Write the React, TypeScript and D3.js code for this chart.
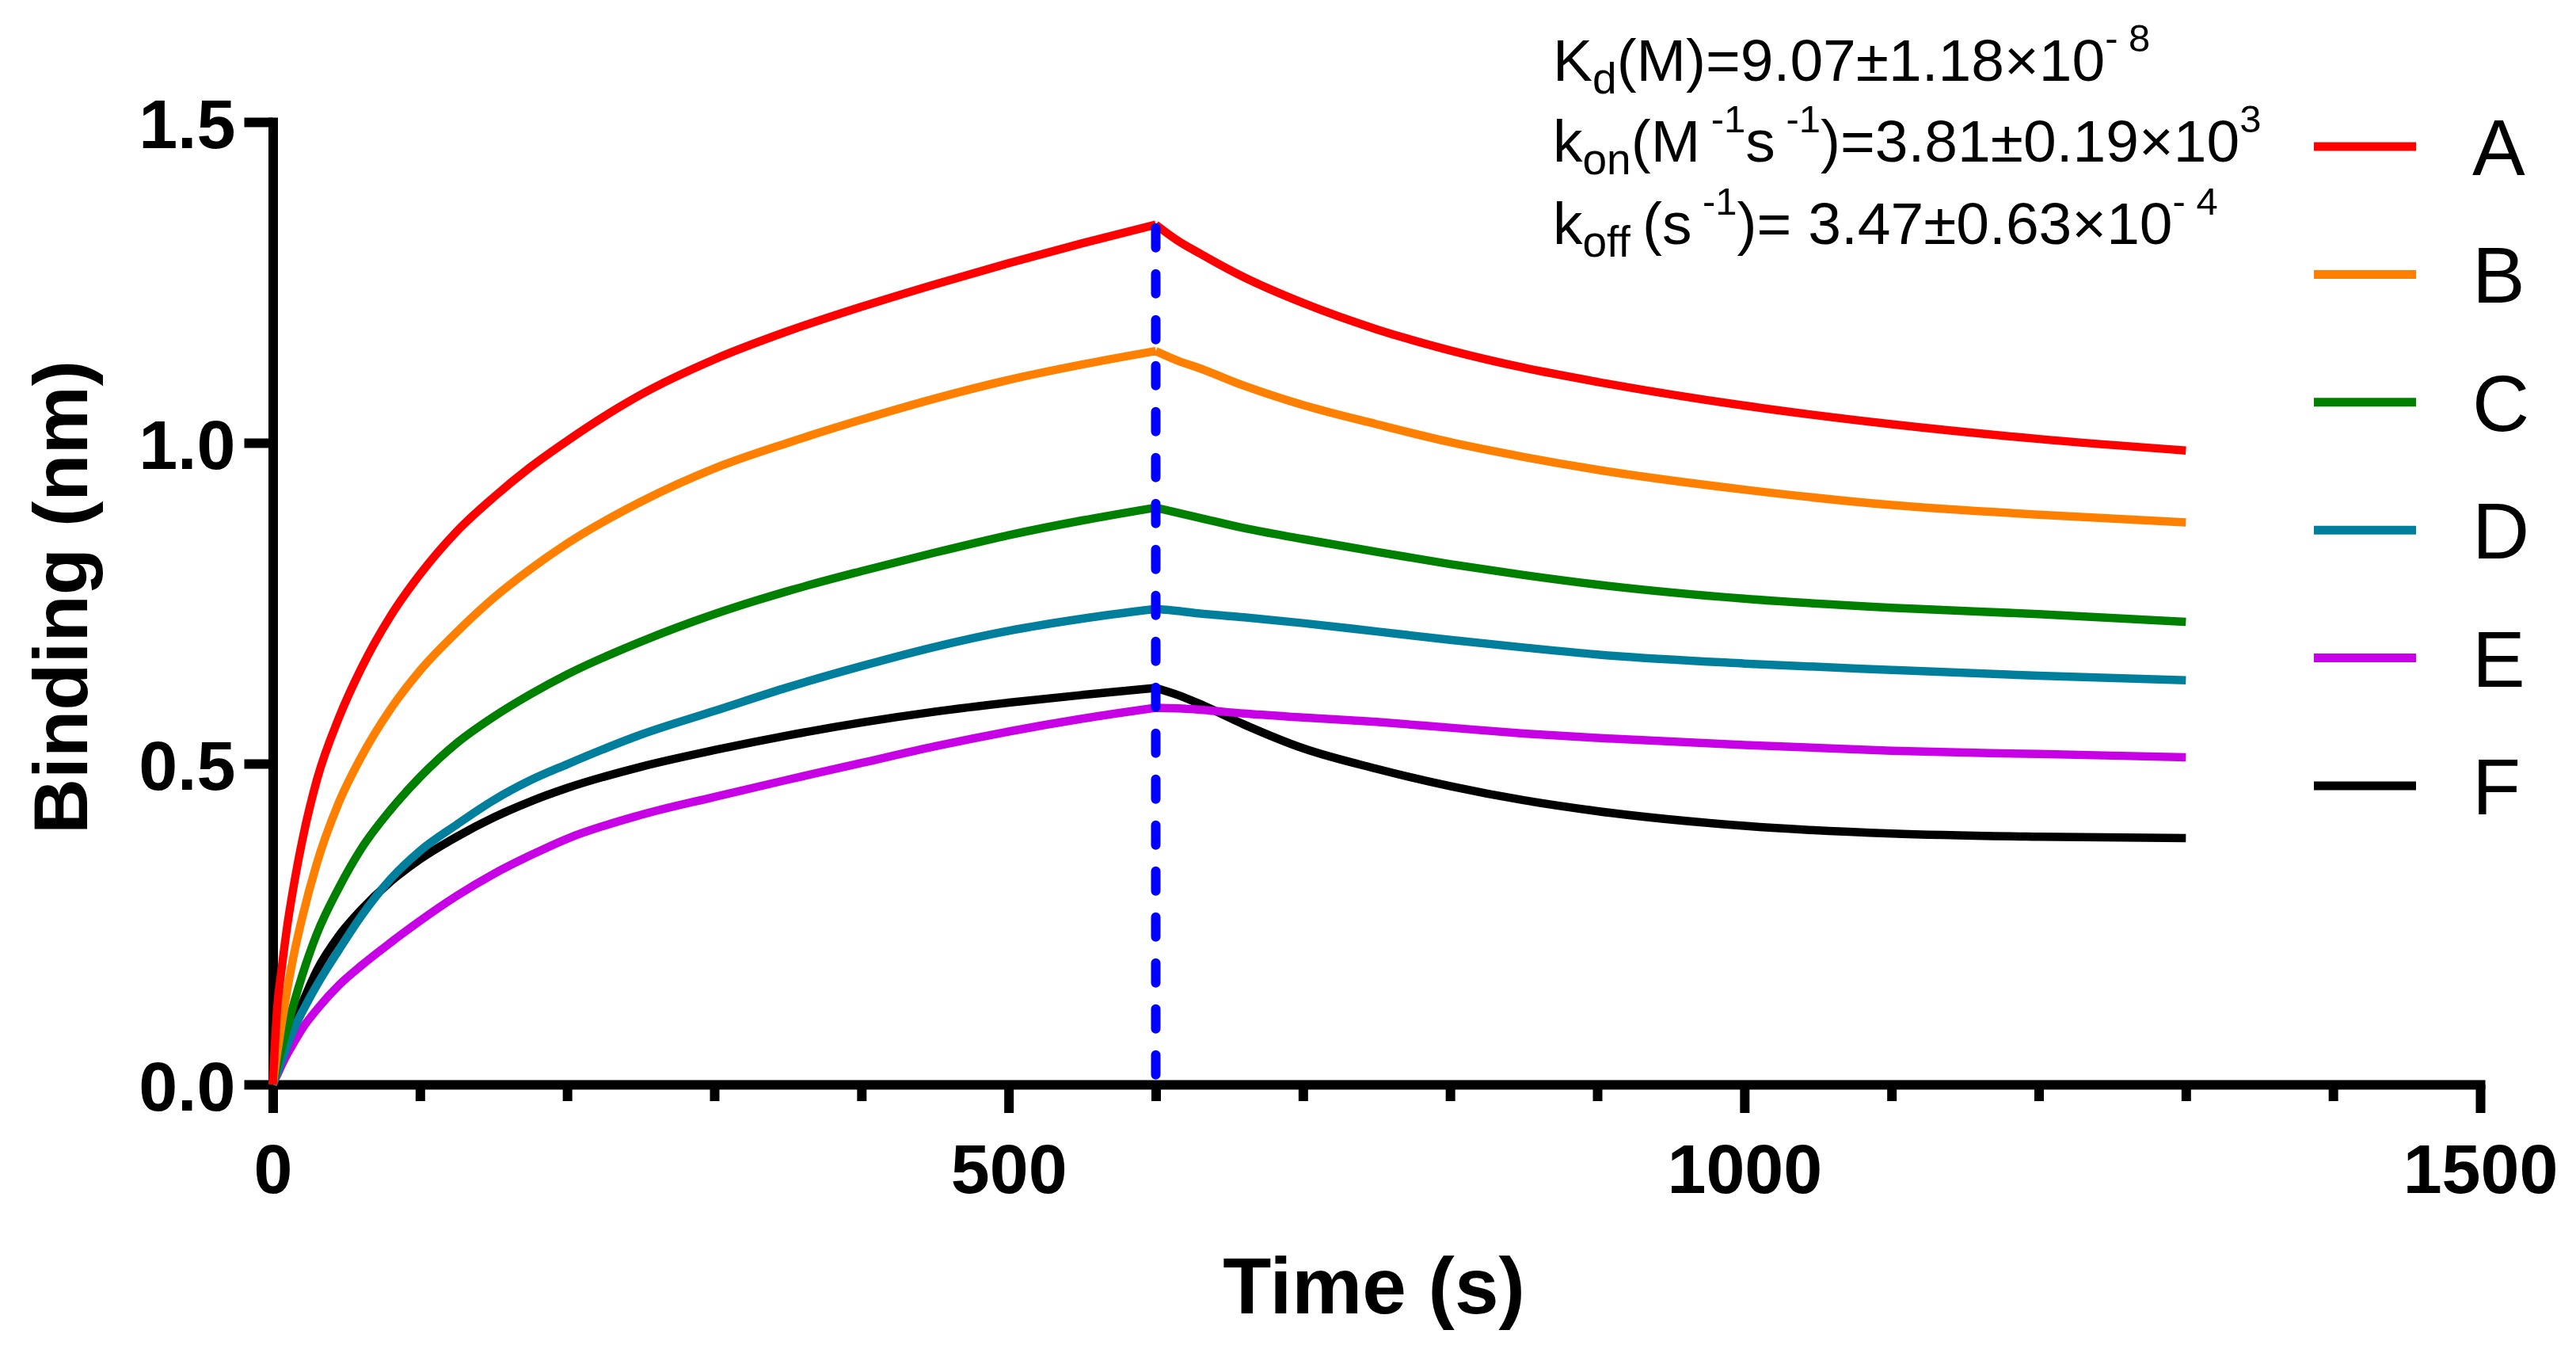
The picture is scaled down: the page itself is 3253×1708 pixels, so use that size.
import React, { useEffect, useRef } from 'react';
import * as d3 from 'd3';

const WIDTH = 3253;
const HEIGHT = 1708;

// ---- data -----------------------------------------------------------------
const X_DOMAIN: [number, number] = [0, 1500];
const Y_DOMAIN: [number, number] = [0, 1.5];
const X_MAJOR_TICKS = [0, 500, 1000, 1500];
const X_MINOR_TICKS = [100, 200, 300, 400, 600, 700, 800, 900, 1100, 1200, 1300, 1400];
const Y_TICKS = [0, 0.5, 1.0, 1.5];

const SWITCH_TIME = 600; // association -> dissociation
const SWITCH_TOP = 1.335;

const TIME = [
  0, 3, 6, 10, 15, 20, 30, 45, 60, 80, 100, 125, 150, 175, 200, 250, 300, 350, 400, 450, 500, 550, 600,
  615, 630, 660, 700, 750, 800, 850, 900, 1000, 1100, 1200, 1300,
];

const SERIES_A = [
  0, 0.12, 0.18, 0.25, 0.32, 0.38, 0.475, 0.572, 0.648, 0.73, 0.795, 0.862, 0.915, 0.962, 1.003, 1.075, 1.13, 1.174, 1.212, 1.247, 1.28, 1.311, 1.34,
  1.315, 1.295, 1.258, 1.218, 1.177, 1.144, 1.117, 1.095, 1.058, 1.029, 1.006, 0.988,
];
const SERIES_B = [
  0, 0.05, 0.095, 0.15, 0.21, 0.26, 0.345, 0.44, 0.51, 0.585, 0.645, 0.705, 0.758, 0.803, 0.843, 0.908, 0.96, 1.0, 1.036, 1.069, 1.098, 1.122, 1.143,
  1.128, 1.116, 1.089, 1.059, 1.029, 1.001, 0.978, 0.958, 0.927, 0.903, 0.888, 0.876,
];
const SERIES_C = [
  0, 0.03, 0.057, 0.09, 0.132, 0.17, 0.235, 0.307, 0.367, 0.428, 0.479, 0.532, 0.573, 0.608, 0.639, 0.69, 0.733, 0.769, 0.8, 0.829, 0.856, 0.879, 0.899,
  0.891, 0.883, 0.867, 0.85, 0.83, 0.811, 0.794, 0.779, 0.757, 0.743, 0.733, 0.721,
];
const SERIES_D = [
  0, 0.018, 0.037, 0.062, 0.09, 0.113, 0.155, 0.21, 0.262, 0.32, 0.364, 0.405, 0.443, 0.474, 0.499, 0.545, 0.582, 0.619, 0.652, 0.682, 0.707, 0.726, 0.741,
  0.738, 0.734, 0.728, 0.719, 0.706, 0.693, 0.681, 0.67, 0.656, 0.646, 0.637, 0.63,
];
const SERIES_E = [
  0, 0.015, 0.03, 0.048, 0.068, 0.087, 0.117, 0.155, 0.185, 0.221, 0.255, 0.294, 0.328, 0.357, 0.383, 0.42, 0.448, 0.475, 0.501, 0.527, 0.55, 0.57, 0.587,
  0.586, 0.584, 0.578, 0.572, 0.565, 0.556, 0.547, 0.54, 0.529, 0.52, 0.515, 0.51,
];
const SERIES_F = [
  0, 0.022, 0.044, 0.074, 0.101, 0.127, 0.178, 0.232, 0.272, 0.316, 0.351, 0.386, 0.416, 0.441, 0.462, 0.495, 0.521, 0.544, 0.564, 0.581, 0.595, 0.607, 0.618,
  0.607, 0.593, 0.561, 0.524, 0.492, 0.465, 0.443, 0.426, 0.403, 0.391, 0.386, 0.384,
];

const SERIES_NAMES = ['A', 'B', 'C', 'D', 'E', 'F'];
const SERIES_VALUES = [SERIES_A, SERIES_B, SERIES_C, SERIES_D, SERIES_E, SERIES_F];
const SERIES_COLORS = ['#FF0000', '#FF8000', '#008000', '#007F9C', '#C800E6', '#000000'];

type Seg = { text: string; kind: 'main' | 'sub' | 'sup' };
const ANNOTATION_LINES: Seg[][] = [
  [
    { text: 'K', kind: 'main' },
    { text: 'd', kind: 'sub' },
    { text: '(M)=9.07±1.18×10', kind: 'main' },
    { text: '- 8', kind: 'sup' },
  ],
  [
    { text: 'k', kind: 'main' },
    { text: 'on', kind: 'sub' },
    { text: '(M', kind: 'main' },
    { text: ' -1', kind: 'sup' },
    { text: 's', kind: 'main' },
    { text: ' -1', kind: 'sup' },
    { text: ')=3.81±0.19×10', kind: 'main' },
    { text: '3', kind: 'sup' },
  ],
  [
    { text: 'k', kind: 'main' },
    { text: 'off ', kind: 'sub' },
    { text: '(s', kind: 'main' },
    { text: ' -1', kind: 'sup' },
    { text: ')= 3.47±0.63×10', kind: 'main' },
    { text: '- 4', kind: 'sup' },
  ],
];

// ---- layout / style -------------------------------------------------------
const FONT = '"Liberation Sans", Arial, Helvetica, sans-serif';
const PLOT_LEFT = 344.5;
const PLOT_RIGHT = 3132;
const PLOT_BOTTOM = 1369;
const PLOT_TOP = 154;
const AXIS_W = 12;
const CURVE_W = 10.5;

const SEG_SIZE = { main: 75, sub: 55, sup: 49 };
const SEG_SHIFT = { main: 0, sub: 16, sup: -37 };

export default function App() {
  const xMinorRef = useRef<SVGGElement>(null);
  const xMajorRef = useRef<SVGGElement>(null);
  const yRef = useRef<SVGGElement>(null);

  const x = d3.scaleLinear().domain(X_DOMAIN).range([PLOT_LEFT, PLOT_RIGHT]);
  const y = d3.scaleLinear().domain(Y_DOMAIN).range([PLOT_BOTTOM, PLOT_TOP]);

  useEffect(() => {
    const gm = d3.select(xMinorRef.current!);
    gm.selectAll('*').remove();
    gm.call(
      d3
        .axisBottom(x)
        .tickValues(X_MINOR_TICKS)
        .tickSize(21)
        .tickSizeOuter(0)
        .tickFormat(() => '')
    );
    gm.select('.domain').remove();
    gm.selectAll('.tick line').attr('stroke', '#000').attr('stroke-width', AXIS_W);

    const gx = d3.select(xMajorRef.current!);
    gx.selectAll('*').remove();
    gx.call(
      d3
        .axisBottom(x)
        .tickValues(X_MAJOR_TICKS)
        .tickSize(36)
        .tickSizeOuter(0)
        .tickFormat(d3.format('d'))
    );
    gx.attr('font-family', FONT).attr('font-size', 88).attr('font-weight', 'bold');
    gx.select('.domain').attr('stroke', '#000').attr('stroke-width', AXIS_W).attr('stroke-linecap', 'square');
    gx.selectAll('.tick line').attr('stroke', '#000').attr('stroke-width', AXIS_W);
    gx.selectAll('.tick text').attr('y', 137).attr('dy', 0).attr('fill', '#000');

    const gy = d3.select(yRef.current!);
    gy.selectAll('*').remove();
    gy.call(
      d3
        .axisLeft(y)
        .tickValues(Y_TICKS)
        .tickSize(36)
        .tickSizeOuter(0)
        .tickFormat(d3.format('.1f'))
    );
    gy.attr('font-family', FONT).attr('font-size', 88).attr('font-weight', 'bold');
    gy.select('.domain').attr('stroke', '#000').attr('stroke-width', AXIS_W).attr('stroke-linecap', 'square');
    gy.selectAll('.tick line').attr('stroke', '#000').attr('stroke-width', AXIS_W);
    gy.selectAll('.tick text').attr('x', -47).attr('dy', '0.37em').attr('fill', '#000');
  }, []);

  const line = d3
    .line<[number, number]>()
    .x((d) => x(d[0]))
    .y((d) => y(d[1]))
    .curve(d3.curveMonotoneX);

  const paths = SERIES_VALUES.map((vals) => {
    const pts: [number, number][] = TIME.map((t, i) => [t, vals[i]]);
    const assoc = pts.filter((p) => p[0] <= SWITCH_TIME);
    const dissoc = pts.filter((p) => p[0] >= SWITCH_TIME);
    return (line(assoc) || '') + (line(dissoc) || '');
  });

  const drawOrder = [5, 4, 3, 2, 1, 0];

  const legendX1 = 2922;
  const legendX2 = 3051;
  const legendTextX = 3122;
  const legendY0 = 185;
  const legendStep = 161.4;

  const annX = 1961;
  const annBaselines = [102, 204, 308];

  return (
    <svg
      width={WIDTH}
      height={HEIGHT}
      viewBox={`0 0 ${WIDTH} ${HEIGHT}`}
      style={{ position: 'absolute', left: 0, top: 0, background: '#fff' }}
    >
      <rect x={0} y={0} width={WIDTH} height={HEIGHT} fill="#fff" />

      {/* axes */}
      <g ref={xMinorRef} transform={`translate(0,${PLOT_BOTTOM})`} />
      <g ref={xMajorRef} transform={`translate(0,${PLOT_BOTTOM})`} />
      <g ref={yRef} transform={`translate(${PLOT_LEFT},0)`} />

      {/* curves */}
      {drawOrder.map((i) => (
        <path
          key={SERIES_NAMES[i]}
          d={paths[i]}
          fill="none"
          stroke={SERIES_COLORS[i]}
          strokeWidth={CURVE_W}
          strokeLinejoin="round"
          strokeLinecap="butt"
        />
      ))}

      {/* association / dissociation switch */}
      <line
        x1={x(SWITCH_TIME)}
        x2={x(SWITCH_TIME)}
        y1={y(SWITCH_TOP)}
        y2={y(0)}
        stroke="#0000FF"
        strokeWidth={12}
        strokeDasharray="25 33"
        strokeLinecap="round"
      />

      {/* axis titles */}
      <text
        x={1735}
        y={1658}
        textAnchor="middle"
        fontFamily={FONT}
        fontWeight="bold"
        fontSize={100}
        fill="#000"
      >
        Time (s)
      </text>
      <text
        transform={`translate(110,754) rotate(-90)`}
        textAnchor="middle"
        fontFamily={FONT}
        fontWeight="bold"
        fontSize={97}
        fill="#000"
      >
        Binding (nm)
      </text>

      {/* legend */}
      {SERIES_NAMES.map((name, i) => {
        const cy = legendY0 + i * legendStep;
        return (
          <g key={name}>
            <line x1={legendX1} x2={legendX2} y1={cy} y2={cy} stroke={SERIES_COLORS[i]} strokeWidth={11} />
            <text x={legendTextX} y={cy + 36} fontFamily={FONT} fontSize={100} fill="#000">
              {name}
            </text>
          </g>
        );
      })}

      {/* kinetic constants */}
      {ANNOTATION_LINES.map((segs, li) => {
        let cur = 0;
        return (
          <text
            key={li}
            x={annX}
            y={annBaselines[li]}
            fontFamily={FONT}
            fontSize={SEG_SIZE.main}
            fill="#000"
            style={{ whiteSpace: 'pre' }}
          >
            {segs.map((s, si) => {
              const target = SEG_SHIFT[s.kind];
              const dy = target - cur;
              cur = target;
              return (
                <tspan key={si} dy={dy} fontSize={SEG_SIZE[s.kind]}>
                  {s.text}
                </tspan>
              );
            })}
          </text>
        );
      })}
    </svg>
  );
}
